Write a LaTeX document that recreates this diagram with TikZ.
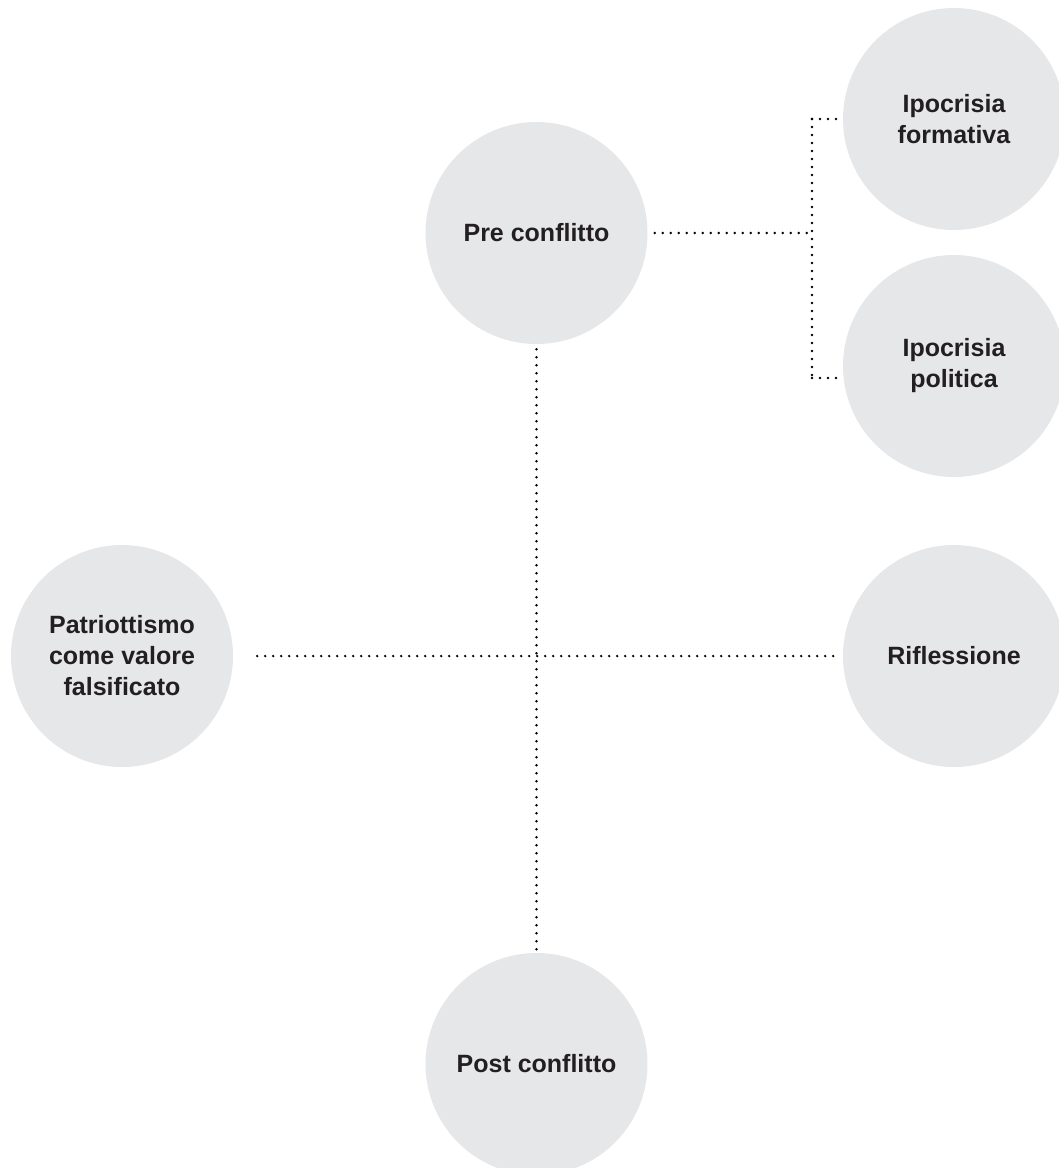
\documentclass[tikz,border=0pt]{standalone}
\usepackage{fontspec}
\setmainfont{Liberation Sans}
\begin{document}
\definecolor{bubble}{HTML}{E6E7E9}
\definecolor{ink}{HTML}{231F20}
\begin{tikzpicture}[x=1pt,y=-1pt,
  topic/.style={circle, fill=bubble, minimum size=222pt, inner sep=0pt,
    align=center, text=ink, font=\fontsize{25}{31}\selectfont\bfseries},
  dotline/.style={line width=2.6pt, line cap=round, dash pattern=on 0pt off 8pt, black}]
\useasboundingbox (0,0) rectangle (1059,1168);

% topics
\node[topic] (pre)  at (536.5,233) {Pre conflitto};
\node[topic] (post) at (536.5,1064) {Post conflitto};
\node[topic] (pat)  at (122,656) {Patriottismo\\come valore\\falsificato};
\node[topic] (rif)  at (954,656) {Riflessione};
\node[topic] (fo)   at (954,119) {Ipocrisia\\formativa};
\node[topic] (po)   at (954,366) {Ipocrisia\\politica};

% bracket joining the two kinds of hypocrisy
\coordinate (jm) at (812,233);
\coordinate (jt) at (812,119);
\coordinate (jb) at (812,378);

% connectors
\draw[dotline, shorten <=7pt] (pre) -- (jm);
\draw[dotline] (jt) -- (jb);
\draw[dotline, shorten >=5pt] (jt) -- (fo.west);
\draw[dotline, shorten >=5pt] (jb) -- (jb -| po.west);
\draw[dotline, shorten <=5pt, shorten >=3pt] (pre) -- (post);
\draw[dotline, shorten <=24pt, shorten >=5pt] (pat) -- (rif);
\end{tikzpicture}
\end{document}
